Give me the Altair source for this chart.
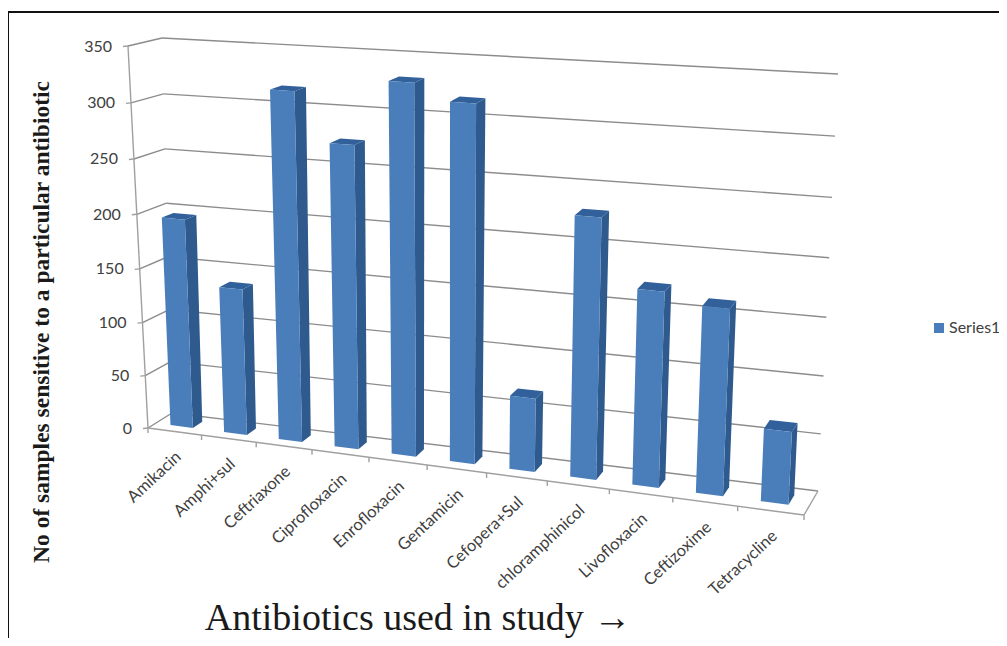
import altair as alt

categories = ["Amikacin", "Amphi+sul", "Ceftriaxone", "Ciprofloxacin", "Enrofloxacin", "Gentamicin",
              "Cefopera+Sul", "chloramphinicol", "Livofloxacin", "Ceftizoxime", "Tetracycline"]
values = [195, 136, 317, 274, 331, 317, 66, 229, 171, 162, 63]
y_ticks = [0, 50, 100, 150, 200, 250, 300, 350]
series_name = "Series1"
y_title = "No of samples sensitive to a particular antibiotic"
x_title = "Antibiotics used in study \u2192"

W, H = 991, 630
OX, OY = 8, 8
VMAX = 350.0
FRONT = "#4A7EBB"
SIDE = "#2F5A8E"
TOP = "#31609A"


def lerp(a, b, k):
    return (a[0] + (b[0] - a[0]) * k, a[1] + (b[1] - a[1]) * k)


def persp(u, a):
    return u / (a + (1 - a) * u)


def project(slot, depth, v):
    """3D chart space (slot 0..11, depth 0..1, value) -> plot pixels."""
    g = persp(v / VMAX, 1.05)
    f = persp(slot / len(categories), 1.125)
    fl = lerp((148, 428), (128, 46), g)
    bl = lerp((172, 413), (162, 38), g)
    br = lerp((818, 491), (838, 74), g)
    fr = lerp((804, 515), (825, 91), g)
    p = lerp(lerp(fl, fr, f), lerp(bl, br, f), depth)
    return (p[0] - OX, p[1] - OY)


def poly(points, color):
    ring = [list(p) for p in points]
    ring.append(ring[0])
    return {"type": "Feature", "properties": {"c": color},
            "geometry": {"type": "Polygon", "coordinates": [ring]}}


n = len(categories)
features = []
for i, v in enumerate(values):
    s0, s1 = i + 0.28, i + 0.70
    d0, d1 = 0.32, 0.72
    features.append(poly([project(s1, d0, 0), project(s1, d1, 0), project(s1, d1, v), project(s1, d0, v)], SIDE))
    features.append(poly([project(s0, d0, v), project(s1, d0, v), project(s1, d1, v), project(s0, d1, v)], TOP))
    features.append(poly([project(s0, d0, 0), project(s1, d0, 0), project(s1, d0, v), project(s0, d0, v)], FRONT))

segs_grid, segs_axis = [], []


def seg(store, a, b):
    store.append({"x": a[0], "y": a[1], "x2": b[0], "y2": b[1]})


for t in y_ticks:
    seg(segs_grid, project(0, 0, t), project(0, 1, t))
    seg(segs_grid, project(0, 1, t), project(n, 1, t))
    a = project(0, 0, t)
    seg(segs_axis, (a[0] - 5, a[1] + 0.5), a)
seg(segs_axis, project(0, 0, 0), project(0, 0, VMAX))
seg(segs_axis, project(0, 0, 0), project(n, 0, 0))
seg(segs_axis, project(n, 0, 0), project(n, 1, 0))
for i in range(n + 1):
    a = project(i, 0, 0)
    seg(segs_axis, a, (a[0], a[1] + 5))

ytxt = []
for t in y_ticks:
    a = project(0, 0, t)
    ytxt.append({"x": a[0] - 16, "y": a[1] + 0.5, "t": str(t)})
xtxt = []
for i, c in enumerate(categories):
    a = project(i + 0.5, 0, 0)
    xtxt.append({"x": a[0] + 4, "y": a[1] + 23, "t": c})

X = alt.X("x:Q", scale=alt.Scale(domain=[0, W], range=[0, W], nice=False), axis=None)
Y = alt.Y("y:Q", scale=alt.Scale(domain=[0, H], range=[0, H], nice=False), axis=None)


def rules(rows, color, width):
    return alt.Chart(alt.Data(values=rows)).mark_rule(color=color, strokeWidth=width).encode(
        x=X, y=Y, x2="x2:Q", y2="y2:Q")


bars = alt.Chart(alt.Data(values=features)).mark_geoshape(strokeWidth=0).encode(
    fill=alt.Fill("properties.c:N", scale=None)
).project(type="identity", scale=1, translate=[0, 0])

border = rules([{"x": 0, "y": 4, "x2": W, "y2": 4}, {"x": 0, "y": 4, "x2": 0, "y2": H}], "#111111", 2)

y_labels = alt.Chart(alt.Data(values=ytxt)).mark_text(
    font="Lato", fontSize=16, align="right", baseline="middle", color="#404040").encode(x=X, y=Y, text="t:N")
x_labels = alt.Chart(alt.Data(values=xtxt)).mark_text(
    font="Lato", fontSize=16.5, align="right", baseline="middle", angle=317, color="#404040").encode(x=X, y=Y, text="t:N")
ytitle = alt.Chart(alt.Data(values=[{"x": 42 - OX, "y": 322 - OY, "t": y_title}])).mark_text(
    font="Liberation Serif", fontWeight="bold", fontSize=23.5, angle=270, align="center", baseline="middle",
    color="#1a1a1a").encode(x=X, y=Y, text="t:N")
xtitle = alt.Chart(alt.Data(values=[{"x": 418 - OX, "y": 619 - OY, "t": x_title}])).mark_text(
    font="Liberation Serif", fontSize=38, align="center", baseline="middle", color="#1a1a1a").encode(x=X, y=Y, text="t:N")
leg_mark = alt.Chart(alt.Data(values=[{"x": 939 - OX, "y": 328 - OY}])).mark_square(
    size=100, color=FRONT, opacity=1).encode(x=X, y=Y)
leg_text = alt.Chart(alt.Data(values=[{"x": 949 - OX, "y": 328 - OY, "t": series_name}])).mark_text(
    font="Lato", fontSize=16, align="left", baseline="middle", color="#404040").encode(x=X, y=Y, text="t:N")

chart = alt.layer(
    border, rules(segs_grid, "#8C8C8C", 1.4), rules(segs_axis, "#A0A0A0", 1.4), bars,
    y_labels, x_labels, ytitle, xtitle, leg_mark, leg_text
).properties(width=W, height=H, padding=0, autosize=alt.AutoSizeParams(type="none")).configure_view(stroke=None)

chart.save("out.html", embed_options={"renderer": "svg", "actions": False})
